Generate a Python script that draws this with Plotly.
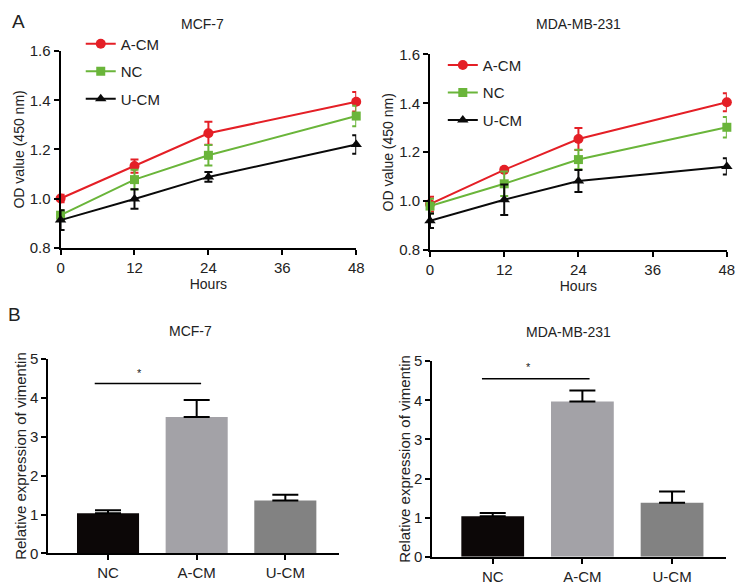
import plotly.graph_objects as go

# ---------------- data ----------------
hours = [0, 12, 24, 48]
series_names = ["A-CM", "NC", "U-CM"]

mcf7_acm = [1.00, 1.132, 1.266, 1.394]
mcf7_acm_err = [0.015, 0.027, 0.047, 0.040]
mcf7_nc = [0.932, 1.077, 1.176, 1.336]
mcf7_nc_err = [0.020, 0.040, 0.042, 0.042]
mcf7_ucm = [0.912, 0.998, 1.088, 1.220]
mcf7_ucm_err = [0.040, 0.040, 0.020, 0.038]

mda_acm = [0.988, 1.128, 1.254, 1.404]
mda_acm_err = [0.030, 0.005, 0.045, 0.037]
mda_nc = [0.980, 1.071, 1.170, 1.302]
mda_nc_err = [0.030, 0.050, 0.040, 0.042]
mda_ucm = [0.920, 1.006, 1.082, 1.142]
mda_ucm_err = [0.030, 0.062, 0.045, 0.033]

bar_cats = ["NC", "A-CM", "U-CM"]
mcf7_vim = [1.03, 3.50, 1.36]
mcf7_vim_err = [0.08, 0.44, 0.15]
mda_vim = [1.035, 3.97, 1.38]
mda_vim_err = [0.08, 0.28, 0.29]

# significance bars: (x start idx, x end idx, y, star x idx, star y)
mcf7_sig = [-0.15, 1.05, 4.36, 0.36, 4.63]
mda_sig = [-0.12, 1.08, 4.55, 0.40, 4.86]

line_colors = ["#e41f26", "#6ab53a", "#0a0a0a"]
symbols = ["circle", "square", "triangle-up"]
bar_colors = ["#0c0707", "#a3a2a7", "#828282"]

FONT = "Liberation Sans, Arial, sans-serif"
TXT = "#222"

W, H = 744, 588

def px(x):
    return x / W

def py(y):
    return 1 - y / H

fig = go.Figure()

def add_lines(vals, errs, xa, ya, legend):
    for name, v, e, c, s in zip(series_names, vals, errs, line_colors, symbols):
        fig.add_trace(go.Scatter(
            x=hours, y=v, name=name, mode="lines+markers",
            line=dict(color=c, width=2),
            marker=dict(symbol=s, size=10 if s != "square" else 9, color=c),
            error_y=dict(type="data", array=e, visible=True, color=c, thickness=2, width=4),
            xaxis=xa, yaxis=ya, legend=legend, legendgroup=legend + name,
            cliponaxis=False,
        ))

add_lines([mcf7_acm, mcf7_nc, mcf7_ucm], [mcf7_acm_err, mcf7_nc_err, mcf7_ucm_err], "x", "y", "legend")
add_lines([mda_acm, mda_nc, mda_ucm], [mda_acm_err, mda_nc_err, mda_ucm_err], "x2", "y2", "legend2")

def add_bars(vals, errs, xa, ya):
    fig.add_trace(go.Bar(
        x=bar_cats, y=vals, marker=dict(color=bar_colors, line=dict(width=0)),
        width=0.7,
        error_y=dict(type="data", array=errs, arrayminus=[0] * len(errs), visible=True,
                     color="black", thickness=2, width=13),
        xaxis=xa, yaxis=ya, showlegend=False,
    ))

add_bars(mcf7_vim, mcf7_vim_err, "x3", "y3")
add_bars(mda_vim, mda_vim_err, "x4", "y4")

axis_common = dict(showline=True, linecolor="black", linewidth=2, ticks="outside",
                   tickcolor="black", tickwidth=2, ticklen=5, showgrid=False, zeroline=False,
                   tickfont=dict(family=FONT, size=15, color=TXT),
                   title_font=dict(family=FONT, size=14, color=TXT))

line_x = dict(range=[0, 48], tickvals=[0, 12, 24, 36, 48], title=dict(text="Hours", standoff=1), **axis_common)
line_y = dict(range=[0.8, 1.6], tickvals=[0.8, 1.0, 1.2, 1.4, 1.6], tickformat=".1f",
              title=dict(text="OD value (450 nm)", standoff=2), **axis_common)
bar_x = dict(range=[-0.674, 2.6], type="category", **axis_common)
bar_y_common = {k: v for k, v in axis_common.items() if k != "title_font"}
bar_y = dict(range=[0, 5], tickvals=[0, 1, 2, 3, 4, 5],
             title=dict(text="Relative expression of vimentin", standoff=0,
                        font=dict(family=FONT, size=15, color=TXT)), **bar_y_common)

legend_common = dict(xanchor="left", yanchor="top", bgcolor="rgba(0,0,0,0)",
                     font=dict(family=FONT, size=15, color=TXT), tracegroupgap=5, itemwidth=30)
fig.update_layout(
    width=W, height=H, margin=dict(l=0, r=0, t=0, b=0),
    paper_bgcolor="white", plot_bgcolor="white",
    font=dict(family=FONT, size=14, color=TXT),
    xaxis=dict(domain=[px(57.5), px(358)], anchor="y", **line_x),
    yaxis=dict(domain=[py(245.7), py(43.5)], anchor="x", **line_y),
    xaxis2=dict(domain=[px(433), px(734.7)], anchor="y2", **line_x),
    yaxis2=dict(domain=[py(248.3), py(46.7)], anchor="x2", **line_y),
    xaxis3=dict(domain=[px(45), px(340)], anchor="y3", **bar_x),
    yaxis3=dict(domain=[py(560.7), py(360)], anchor="x3", **bar_y),
    xaxis4=dict(domain=[px(435.3), px(733.7)], anchor="y4", **bar_x),
    yaxis4=dict(domain=[py(564), py(362.7)], anchor="x4", **bar_y),
    legend=dict(x=px(78), y=py(19), **legend_common),
    legend2=dict(x=px(446), y=py(41), **legend_common),
    showlegend=True,
)

for sig, xa, ya in [(mcf7_sig, "x3", "y3"), (mda_sig, "x4", "y4")]:
    fig.add_shape(type="line", xref=xa, yref=ya, x0=sig[0], x1=sig[1], y0=sig[2], y1=sig[2],
                  line=dict(color="black", width=1.5))
    fig.add_annotation(xref=xa, yref=ya, x=sig[3], y=sig[4], text="*", showarrow=False,
                       font=dict(family=FONT, size=11, color=TXT))

titles = [("MCF-7", 202, 15), ("MDA-MB-231", 584, 15), ("MCF-7", 190, 332), ("MDA-MB-231", 574, 333)]
for t, tx, ty in titles:
    fig.add_annotation(xref="paper", yref="paper", x=px(tx), y=py(ty), text=t, showarrow=False,
                       xanchor="center", yanchor="middle", font=dict(family=FONT, size=14, color=TXT))
for t, tx, ty in [("A", 15, 13), ("B", 11, 315)]:
    fig.add_annotation(xref="paper", yref="paper", x=px(tx), y=py(ty), text=t, showarrow=False,
                       xanchor="center", yanchor="middle", font=dict(family=FONT, size=19, color=TXT))

fig.write_html("out.html", config={"displayModeBar": False},
               post_script="document.body.style.margin='0';document.body.style.overflow='hidden';")
